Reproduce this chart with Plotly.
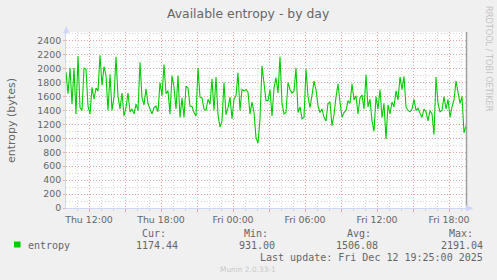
import plotly.graph_objects as go
import pandas as pd

# ---- data (10-minute samples) ----
start_time = "2025-12-11 10:05"
step = "10min"
entropy = [
    1950, 1640, 2010, 1490, 2010, 1350, 2180, 1440, 1400, 2010,
    1990, 1460, 1350, 1730, 1560, 1720, 1680, 2191.04, 1760, 2030,
    1900, 1400, 1920, 1400, 1590, 2170, 1600, 1420, 1650, 1320,
    1440, 1650, 1380, 1420, 1350, 1490, 1400, 2090, 1580, 1480,
    1710, 1500, 1420, 1350, 1440, 1460, 1380, 1800, 1610, 2060,
    1640, 1680, 1350, 1900, 1730, 1420, 1900, 1300, 1580, 1300,
    1750, 1720, 1460, 1460, 1370, 1320, 2010, 1590, 1580, 1420,
    1400, 1560, 1490, 1850, 1400, 1880, 1340, 1160, 1250, 1800,
    1340, 1440, 1590, 1280, 1560, 1610, 1940, 1400, 1700, 1680,
    1700, 1660, 1350, 1520, 1370, 1010, 931, 1280, 2040, 1820,
    1540, 1540, 1700, 1320, 1720, 1870, 1650, 2170, 1500, 1350,
    1370, 1800, 1700, 1650, 1680, 2010, 1370, 1450, 1280, 1300,
    1990, 1600, 1440, 1620, 1820, 1700, 1470, 1370, 1420, 1300,
    1250, 1500, 1520, 1180, 1340, 1590, 1780, 1520, 1300, 1370,
    1400, 1540, 1500, 1780, 1550, 1610, 1350, 1580, 1620, 1420,
    1910, 1450, 1560, 1250, 1100, 1600, 1420, 1700, 1300, 1500,
    990, 1480, 1350, 1520, 1450, 1680, 1550, 1880, 1700, 1890,
    1450, 1400, 1380, 1420, 1560, 1400, 1430, 1360, 1300, 1420,
    1380, 1250, 1400, 1350, 1050, 1880, 1500, 1380, 1400, 1600,
    1420, 1560, 1300, 1450, 1550, 1820, 1650, 1500, 1600, 1080,
    1174.44,
]
times = pd.date_range(start=start_time, periods=len(entropy), freq=step)

x_major = pd.date_range("2025-12-11 12:00", "2025-12-12 18:00", freq="3h")
x_labels = ["Thu 12:00", "", "Thu 18:00", "", "Fri 00:00", "", "Fri 06:00", "",
            "Fri 12:00", "", "Fri 18:00"]
y_ticks = list(range(0, 2401, 200))

title = "Available entropy - by day"
y_title = "entropy (bytes)"
series_name = "entropy"
stat_heads = ["Cur:", "Min:", "Avg:", "Max:"]
stat_vals = ["1174.44", "931.00", "1506.08", "2191.04"]
last_update = "Last update: Fri Dec 12 19:25:00 2025"
footer = "Munin 2.0.33-1"
side_text = "RRDTOOL / TOBI OETIKER"

# ---- layout helpers (pixel -> paper) ----
L, R, T, B = 66, 466, 32, 208
W, H = 497, 280


def px(x):
    return (x - L) / (R - L)


def py(y):
    return (B - y) / (B - T)


FONT = "DejaVu Sans"
MONO = "DejaVu Sans Mono"
FC = "#666666"
GREEN = "#00CC00"
MAJ = "rgba(240,120,120,0.55)"
MIN = "rgba(185,185,185,0.55)"
AXIS = "#CFD6F8"

fig = go.Figure()
fig.add_trace(go.Scatter(x=times, y=entropy, mode="lines",
                         line=dict(color=GREEN, width=1.1), showlegend=False,
                         hoverinfo="skip"))

fig.update_layout(
    width=W, height=H, autosize=False,
    margin=dict(l=L, r=W - R, t=T, b=H - B),
    paper_bgcolor="#F0F0F0", plot_bgcolor="#FFFFFF",
    showlegend=False,
    font=dict(family=FONT, color=FC, size=9.4),
)

fig.update_xaxes(
    range=[times[0], times[-1]],
    tickmode="array", tickvals=x_major, ticktext=x_labels,
    showgrid=True, gridcolor=MAJ, griddash="1px,2px", gridwidth=1,
    ticks="outside", ticklen=3, tickcolor=MAJ,
    tickfont=dict(family=FONT, size=9.4, color=FC),
    showline=True, linecolor=AXIS, linewidth=1,
    zeroline=False,
    minor=dict(dtick=3600000, tick0="2025-12-11 00:00", showgrid=True,
               gridcolor=MIN, griddash="1px,2px", gridwidth=1,
               ticks="outside", ticklen=2, tickcolor=MIN),
)
fig.update_yaxes(
    range=[0, 2525],
    tickmode="array", tickvals=y_ticks, ticktext=[str(v) for v in y_ticks],
    showgrid=True, gridcolor=MAJ, griddash="1px,2px", gridwidth=1,
    ticks="outside", ticklen=2, tickcolor=MAJ,
    tickfont=dict(family=FONT, size=9.4, color=FC),
    showline=True, linecolor=AXIS, linewidth=1,
    zeroline=False,
    minor=dict(dtick=100, showgrid=True, gridcolor=MIN, griddash="1px,2px",
               gridwidth=1),
)

shapes = []
# right edge line
shapes.append(dict(type="line", xref="paper", yref="paper", x0=px(466.5), x1=px(466.5),
                   y0=py(208), y1=py(32), line=dict(color="#A0A0A0", width=1.5)))
# axis arrows
shapes.append(dict(type="path", xref="paper", yref="paper",
                   path=f"M {px(63)},{py(33)} L {px(69.5)},{py(33)} L {px(66.3)},{py(26)} Z",
                   fillcolor=AXIS, line=dict(width=0)))
shapes.append(dict(type="path", xref="paper", yref="paper",
                   path=f"M {px(466)},{py(205)} L {px(466)},{py(211.5)} L {px(473.5)},{py(208.2)} Z",
                   fillcolor=AXIS, line=dict(width=0)))
# legend square
shapes.append(dict(type="rect", xref="paper", yref="paper",
                   x0=px(14), x1=px(20.5), y0=py(247.5), y1=py(241.5),
                   fillcolor=GREEN, line=dict(width=0)))
fig.update_layout(shapes=shapes)

ann = []


def text(x, y, s, size, family=FONT, color=FC, xanchor="left", yanchor="middle", angle=0):
    ann.append(dict(x=px(x), y=py(y), xref="paper", yref="paper", text=s,
                    showarrow=False, xanchor=xanchor, yanchor=yanchor,
                    textangle=angle, borderpad=0,
                    font=dict(family=family, size=size, color=color)))


text(248.3, 13, title, 12.4, xanchor="center")
text(11, 120, y_title, 11, xanchor="center", angle=-90)
text(489, 59, side_text, 8.2, color="#C4C4C4", xanchor="center", angle=90)
text(26.5, 245, series_name, 10, family=MONO)
head_x = [140.5, 243, 346, 447.5]
val_x = [136.5, 240, 337, 441.5]
for hx, vx, h, v in zip(head_x, val_x, stat_heads, stat_vals):
    text(hx, 233, h, 10, family=MONO)
    text(vx + len(v) * 6.0, 245, v, 10, family=MONO, xanchor="right")
text(483.5, 257, last_update, 10, family=MONO, xanchor="right")
text(248, 269, footer, 7.4, color="#C8C8C8", xanchor="center")
fig.update_layout(annotations=ann)

fig.write_html("out.html")
